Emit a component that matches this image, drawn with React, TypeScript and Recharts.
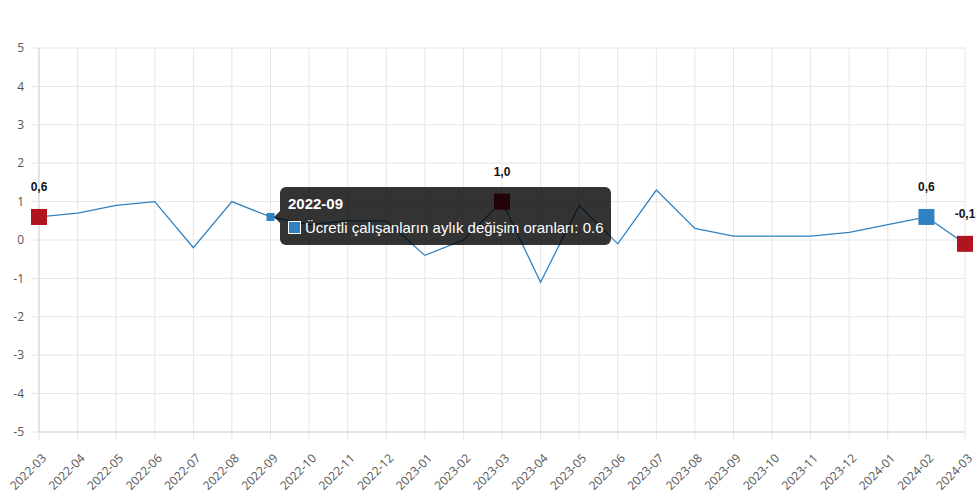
import React from 'react';
import {
  LineChart,
  Line,
  XAxis,
  YAxis,
  CartesianGrid,
  Tooltip
} from 'recharts';

const months = [
  '2022-03', '2022-04', '2022-05', '2022-06', '2022-07', '2022-08', '2022-09',
  '2022-10', '2022-11', '2022-12', '2023-01', '2023-02', '2023-03', '2023-04',
  '2023-05', '2023-06', '2023-07', '2023-08', '2023-09', '2023-10', '2023-11',
  '2023-12', '2024-01', '2024-02', '2024-03'
];

const values = [
  0.6, 0.7, 0.9, 1.0, -0.2, 1.0, 0.6,
  0.4, 0.5, 0.5, -0.4, 0.0, 1.0, -1.1,
  0.9, -0.1, 1.3, 0.3, 0.1, 0.1, 0.1,
  0.2, 0.4, 0.6, -0.1
];

const yTicks = [-5, -4, -3, -2, -1, 0, 1, 2, 3, 4, 5];

const redMonths = ['2022-03', '2023-03', '2024-03'];
const blueMonths = ['2024-02'];
const hoverMonth = '2022-09';

const seriesName = 'Ücretli çalışanların aylık değişim oranları';

const data = months.map((m, i) => ({ month: m, value: values[i] }));

const BLUE = '#3182c0';
const RED = '#b0141f';

const MarkerDot = (props: any) => {
  const { cx, cy, payload, index } = props;
  if (cx == null || cy == null) return <g key={index} />;
  const isRed = redMonths.includes(payload.month);
  const isBlue = blueMonths.includes(payload.month);
  if (payload.month === hoverMonth) {
    return <rect key={index} x={cx - 4} y={cy - 4} width={8} height={8} fill={BLUE} />;
  }
  if (!isRed && !isBlue) return <g key={index} />;
  const label = payload.value.toFixed(1).replace('.', ',');
  return (
    <g key={index}>
      <rect x={cx - 8} y={cy - 8} width={16} height={16} fill={isRed ? RED : BLUE} />
      <text
        x={cx}
        y={cy - 26}
        textAnchor="middle"
        fontFamily="Arial, 'Liberation Sans', sans-serif"
        fontSize={12}
        fontWeight="bold"
        fill="#111"
      >
        {label}
      </text>
    </g>
  );
};

const XTick = (props: any) => {
  const { x, y, payload } = props;
  return (
    <g transform={`translate(${x + 8},${y + 17})`}>
      <text
        transform="rotate(-45)"
        textAnchor="end"
        fill="#555"
        fontSize={12}
        fontFamily="'Open Sans', sans-serif"
      >
        {payload.value}
      </text>
    </g>
  );
};

const TooltipBox = (props: any) => {
  const { payload } = props;
  const item = payload && payload.length ? payload[0].payload : data[months.indexOf(hoverMonth)];
  return (
    <div
      style={{
        position: 'relative',
        background: 'rgba(0,0,0,0.8)',
        borderRadius: 6,
        padding: '8px 8px 9px 8px',
        color: '#fff',
        fontFamily: "Arial, 'Liberation Sans', sans-serif",
        whiteSpace: 'nowrap'
      }}
    >
      <div
        style={{
          position: 'absolute',
          left: -6,
          top: 24,
          width: 0,
          height: 0,
          borderTop: '6px solid transparent',
          borderBottom: '6px solid transparent',
          borderRight: '6px solid rgba(0,0,0,0.8)'
        }}
      />
      <div style={{ fontWeight: 'bold', fontSize: 15, marginBottom: 7, lineHeight: '17px' }}>{item.month}</div>
      <div style={{ display: 'flex', alignItems: 'center', fontSize: 15, lineHeight: '17px' }}>
        <span
          style={{
            display: 'inline-block',
            width: 11,
            height: 11,
            background: BLUE,
            border: '1px solid #fff',
            marginRight: 4
          }}
        />
        {seriesName}: {item.value}
      </div>
    </div>
  );
};

export default function App() {
  return (
    <div style={{ position: 'absolute', left: 0, top: 0, width: 980, height: 497, background: '#fff' }}>
      <LineChart
        width={980}
        height={497}
        data={data}
        margin={{ top: 48, right: 15, bottom: 0, left: 0 }}
      >
        <CartesianGrid stroke="#e6e6e6" />
        <XAxis
          dataKey="month"
          interval={0}
          height={65}
          tickSize={8}
          tick={<XTick />}
          stroke="#d4d4d4"
          tickLine={{ stroke: '#e6e6e6' }}
          padding={{ left: 0, right: 0 }}
        />
        <YAxis
          domain={[-5, 5]}
          ticks={yTicks}
          width={39}
          tickSize={8}
          tickMargin={7}
          stroke="#d4d4d4"
          tickLine={{ stroke: '#e6e6e6' }}
          tick={{ fill: '#555', fontSize: 12, fontFamily: "'Open Sans', sans-serif" }}
          interval={0}
        />
        <Tooltip
          active
          defaultIndex={6}
          cursor={false}
          position={{ x: 280, y: 187 }}
          isAnimationActive={false}
          content={<TooltipBox />}
          wrapperStyle={{ outline: 'none' }}
        />
        <Line
          type="linear"
          dataKey="value"
          name={seriesName}
          stroke={BLUE}
          strokeWidth={1.3}
          dot={<MarkerDot />}
          activeDot={false}
          isAnimationActive={false}
        />
      </LineChart>
    </div>
  );
}
